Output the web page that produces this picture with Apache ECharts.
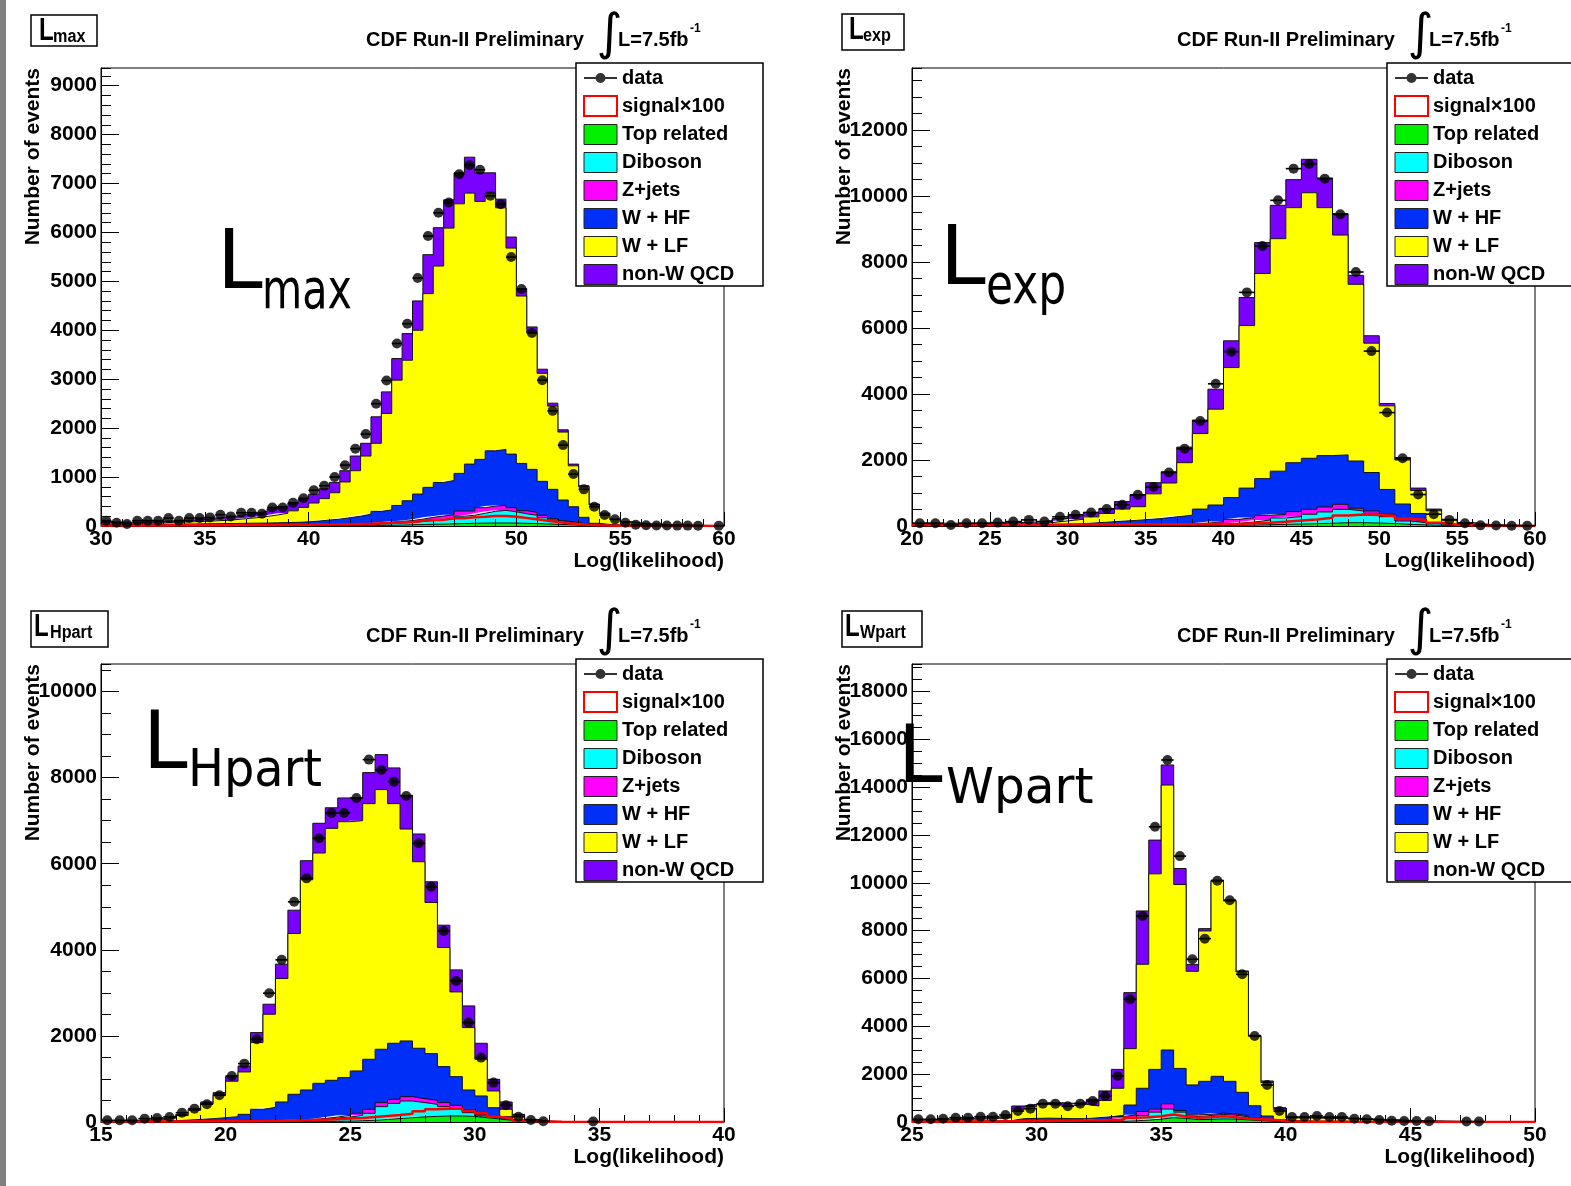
<!DOCTYPE html>
<html>
<head>
<meta charset="utf-8">
<script src="https://cdn.jsdelivr.net/npm/echarts@6/dist/echarts.min.js"></script>
<style>
html,body{margin:0;padding:0;background:#fff;}
#chart{width:1571px;height:1186px;}
</style>
</head>
<body>
<div id="chart"></div>
<script>
// ---------- L_max : 60 bins of 0.5 from 30 to 60 ----------
const lmaxData = [109,68,40,109,109,109,162,109,162,162, 176,230,196,270,270,250,378,378,473,568,
  730,824,1000,1243,1581,1878,2500,2973,3730,4135, 5067,5925,6400,6612,7190,7374,7280,6748,6578,5496,
  4843,3945,2980,2353,1653,1061,749,394,224,136, 67,25,15,10,10,8,8,6,null,5];
const lmaxSignal = [10,10,10,12,12,12,14,14,15,15, 16,16,18,18,20,20,22,24,26,28,
  30,32,35,38,42,46,55,60,75,80, 109,122,125,157,160,177,190,204,206,190,
  163,136,109,82,54,41,27,14,8,5, 4,3,2,2,1,1,1,0,0,0];
const lmaxTop = [2,2,2,2,2,2,2,3,3,3, 3,4,4,4,5,5,5,6,6,7, 7,8,8,9,10,10,12,15,20,25,
  30,35,40,45,50,55,60,62,62,60, 55,50,42,35,28,20,14,8,5,3, 2,2,1,1,1,1,0,0,0,0];
const lmaxDiboson = [2,2,2,2,2,3,3,3,3,4, 4,4,4,5,5,5,6,6,7,7, 8,8,10,11,12,14,28,35,40,45,
  60,75,85,105,150,165,200,238,258,230, 195,170,128,85,52,30,16,7,3,2, 2,1,1,1,1,0,1,1,1,0];
const lmaxZjets = [4,4,4,4,4,5,5,6,6,7, 7,8,8,9,10,10,11,12,13,14, 15,18,20,22,24,26,20,30,35,40,
  50,67,79,80,106,86,114,108,102,84, 63,59,48,30,22,18,11,5,4,3, 2,2,2,1,1,1,1,0,0,1];
const lmaxWhf = [22,22,22,24,26,26,28,28,30,31, 34,34,36,37,38,40,43,46,49,57,
  70,88,102,128,154,190,239,247,325,406, 513,613,686,700,769,959,987,1129,1143,1095,
  966,878,694,599,429,326,136,35,18,12, 9,7,6,5,3,3,2,2,2,1];
const lmaxWlf = [30,25,25,26,26,29,34,40,46,50, 57,65,78,95,112,135,160,190,235,295,
  370,438,540,730,930,1190,1391,1973,2560,2872, 3347,3959,4423,5158,5510,5538,5272,5266,4938,4211,
  3421,2793,2208,1701,1389,836,623,375,220,110, 65,40,28,22,18,13,11,8,5,4];
const lmaxQcd = [30,25,20,22,25,30,33,35,37,45, 55,65,70,85,95,105,125,140,160,170,
  180,200,212,230,300,260,541,441,442,544, 600,796,783,579,633,734,585,415,177,225,
  150,118,84,60,46,35,23,19,15,10, 10,8,7,5,4,4,3,3,2,2];

// ---------- L_exp : 40 bins of 1 from 20 to 60 ----------
const lexpData = [82,82,31,82,82,103,133,185,133,277, 339,410,513,646,944,1180,1621,2339,3181,4309,
  5284,7080,8485,9870,10830,10970,10527,9445,7697,5300, 3437,2052,954,359,185,82,20,15,10,10];
const lexpSignal = [30,30,32,32,34,35,36,38,40,42, 44,46,48,50,52,54,55,56,58,60,
  60,80,100,130,170,200,250,320,350,330, 300,220,180,100,40,20,10,5,3,2];
const lexpTop = [1,1,1,1,1,1,2,2,2,3, 3,4,5,6,7,8,10,12,14,17,
  20,30,40,50,60,70,85,100,100,90, 75,50,35,20,10,5,3,2,1,1];
const lexpDiboson = [1,1,1,1,1,1,1,1,2,2, 3,4,5,6,8,10,12,16,21,33,
  62,92,142,193,224,285,341,406,355,295, 209,102,66,41,15,7,3,2,1,1];
const lexpZjets = [2,2,2,3,3,3,3,4,4,5, 6,8,10,13,15,22,28,37,50,83,
  121,132,142,112,152,151,150,151,81,70, 71,51,51,21,10,6,4,2,2,1];
const lexpWhf = [26,26,26,27,28,30,32,33,37,45, 58,84,110,135,160,186,227,263,428,503,
  659,895,1112,1307,1483,1546,1558,1498,1434,1166, 753,464,228,21,16,7,5,4,3,2];
const lexpWlf = [20,20,20,20,22,23,24,32,58,99, 135,177,250,353,395,749,1026,1591,2288,2904,
  3940,4925,6216,7046,7729,8048,7514,6663,5354,3919, 2534,1333,697,359,134,65,30,16,10,8];
const lexpQcd = [40,35,35,36,37,40,43,51,61,72, 103,133,153,226,359,338,339,472,410,605,
  810,851,936,1010,849,1012,897,648,273,226, 72,73,72,51,20,13,6,4,3,2];

// ---------- L_Hpart : 50 bins of 0.5 from 15 to 40 ----------
const lhpartData = [39,39,39,78,93,116,217,310,411,620, 1070,1356,1922,2992,3767,5115,5660,6590,7179,7179,
  7528,8419,8179,7907,7574,6474,5465,4440,3278,2309, 1496,915,388,124,47,16,null,null,null,10,
  null,null,null,null,null,null,null,null,null,null];
const lhpartSignal = [10,10,10,12,12,14,14,16,16,18, 18,20,22,25,30,35,45,55,62,80,
  93,116,140,163,194,248,295,310,310,256, 202,124,78,30,15,8,4,2,0,0,
  0,0,0,0,0,0,0,0,0,0];
const lhpartTop = [0,0,0,0,0,1,1,1,2,2, 2,3,4,5,6,8,10,12,15,20,
  30,40,60,80,100,120,130,140,140,130, 100,70,40,20,8,3,1,0,0,0, 0,0,0,0,0,0,0,0,0,0];
const lhpartDiboson = [1,1,1,1,2,1,2,3,3,4, 6,7,10,13,19,27,35,50,78,96,
  125,162,297,354,388,330,281,217,170,87, 40,30,10,5,2,1,1,1,0,0, 0,0,0,0,0,0,0,0,0,0];
const lhpartZjets = [1,1,1,2,2,3,3,4,5,6, 7,10,11,12,15,15,15,16,23,39,
  47,93,93,93,101,93,93,93,78,62, 38,16,12,5,2,1,1,0,1,0, 0,0,0,0,0,0,0,0,0,0];
const lhpartWhf = [6,8,10,12,16,25,39,52,68,88, 109,158,270,311,425,593,684,821,853,876,
  984,1162,1240,1302,1294,1170,1085,837,666,465, 427,217,62,17,8,3,1,1,0,1, 0,0,0,0,0,0,0,0,0,0];
const lhpartWlf = [4,5,10,20,35,60,105,211,341,520, 822,985,1550,2162,2868,3736,4884,5350,5853,5946,
  5814,5939,6032,5567,4923,4334,3511,2766,1968,1449, 852,388,171,77,25,10,4,2,1,0, 0,0,0,0,0,0,0,0,0,0];
const lhpartQcd = [4,8,9,11,23,26,28,24,46,62, 108,139,232,233,333,542,442,691,478,551,
  528,721,813,830,785,644,481,519,512,504, 372,271,170,54,17,5,2,1,1,1, 0,0,0,0,0,0,0,0,0,0];

// ---------- L_Wpart : 50 bins of 0.5 from 25 to 50 ----------
const lwpartData = [112,112,139,181,181,223,223,293,460,558, 767,767,655,767,878,1087,1924,5130,8615,12345,
  15137,11117,6803,7667,10090,9270,6175,3597,1547,460, 209,209,251,209,209,139,112,84,56,42,
  42,28,null,null,20,20,null,null,null,null];
const lwpartSignal = [10,12,14,16,18,20,25,30,35,40, 45,50,55,60,70,80,90,174,202,244,
  313,230,174,202,244,202,146,118,90,35, 20,15,10,8,6,5,4,3,2,2, 1,1,1,0,0,0,0,0,0,0];
const lwpartTop = [1,1,1,1,2,2,2,3,3,3, 4,4,4,5,6,10,30,50,80,120,
  180,150,100,110,130,120,90,60,30,15, 8,6,5,4,3,3,2,2,2,1, 1,1,1,1,0,0,0,0,0,0];
const lwpartDiboson = [4,4,5,5,5,6,7,7,12,12, 12,12,12,13,34,70,100,130,191,291,
  360,261,130,161,183,165,126,72,33,20, 12,9,7,6,6,5,5,4,3,3, 2,2,1,1,1,1,1,1,0,0];
const lwpartZjets = [5,5,6,6,7,8,9,10,25,25, 26,26,26,27,60,50,100,120,167,125,
  220,69,70,49,57,55,44,43,27,15, 10,10,8,8,6,5,4,4,3,2, 2,1,1,1,1,1,0,0,1,1];
const lwpartWhf = [10,15,18,23,26,29,32,40,100,110, 118,108,98,95,80,90,41,410,972,1664,
  2250,1760,1250,1380,1540,1360,980,505,160,40, 20,15,15,12,13,12,11,10,8,8, 7,6,5,3,3,2,2,1,1,0];
const lwpartWlf = [50,50,55,65,75,85,100,120,390,491, 579,550,540,599,489,680,1139,2357,5184,8177,
  11080,7690,4750,6288,8160,7542,5033,2917,1395,440, 120,130,125,120,117,105,88,75,62,46,
  36,28,22,18,14,11,9,6,4,4];
const lwpartQcd = [30,30,35,40,45,50,60,70,139,98, 69,108,101,97,279,400,790,2342,2230,1410,
  838,670,290,97,42,42,42,27,70,70, 30,30,30,30,25,20,20,15,12,10, 7,7,5,4,3,3,2,2,2,1];

// ---------- shared text ----------
const legendNames = ['data', 'signal\u00d7100', 'Top related', 'Diboson', 'Z+jets', 'W + HF', 'W + LF', 'non-W QCD'];
const xTitle = 'Log(likelihood)';
const yTitle = 'Number of events';
const plotTitle = 'CDF Run-II Preliminary';
const lumiText = 'L=7.5fb';
const lumiExp = '-1';

const FONT = 'Liberation Sans';
const HAND = 'DejaVu Sans';
const COLORS = {top:'#00f000', diboson:'#00ffff', zjets:'#ff00ff', whf:'#0030f8', wlf:'#ffff00', qcd:'#7a00ff', signal:'#ff0000'};
// stacking order, bottom first
const COMPONENTS = [['Top related','top'],['Diboson','diboson'],['Z+jets','zjets'],['W + HF','whf'],['W + LF','wlf'],['non-W QCD','qcd']];

const PANELS = [
  {xMin:30, xMax:60, bin:0.5, yMax:9360, yMajor:1000, yMinor:200,
   grid:{left:101, top:68, width:623, height:458}, dx:0, dy:0,
   data:lmaxData, signal:lmaxSignal,
   stack:{top:lmaxTop, diboson:lmaxDiboson, zjets:lmaxZjets, whf:lmaxWhf, wlf:lmaxWlf, qcd:lmaxQcd},
   tag:'max', box:{x:31, y:15, w:66, h:31, lx:39, sx:55},
   big:{lx:217, ly:267, lsize:82, sx:262, sy:294, ssize:55, scale:0.75}},
  {xMin:20, xMax:60, bin:1, yMax:13880, yMajor:2000, yMinor:500,
   grid:{left:912, top:68, width:623, height:458}, dx:811, dy:0,
   data:lexpData, signal:lexpSignal,
   stack:{top:lexpTop, diboson:lexpDiboson, zjets:lexpZjets, whf:lexpWhf, wlf:lexpWlf, qcd:lexpQcd},
   tag:'exp', box:{x:842, y:14, w:62, h:36, lx:849, sx:865},
   big:{lx:940, ly:263, lsize:82, sx:986, sy:289, ssize:55, scale:0.8}},
  {xMin:15, xMax:40, bin:0.5, yMax:10640, yMajor:2000, yMinor:500,
   grid:{left:101, top:664, width:623, height:458}, dx:0, dy:596,
   data:lhpartData, signal:lhpartSignal,
   stack:{top:lhpartTop, diboson:lhpartDiboson, zjets:lhpartZjets, whf:lhpartWhf, wlf:lhpartWlf, qcd:lhpartQcd},
   tag:'Hpart', box:{x:31, y:611, w:77, h:36, lx:34, sx:52},
   big:{lx:143, ly:747, lsize:80, sx:188, sy:772, ssize:52, scale:0.92}},
  {xMin:25, xMax:50, bin:0.5, yMax:19150, yMajor:2000, yMinor:500,
   grid:{left:912, top:664, width:623, height:458}, dx:811, dy:596,
   data:lwpartData, signal:lwpartSignal,
   stack:{top:lwpartTop, diboson:lwpartDiboson, zjets:lwpartZjets, whf:lwpartWhf, wlf:lwpartWlf, qcd:lwpartQcd},
   tag:'Wpart', box:{x:842, y:611, w:80, h:36, lx:845, sx:862},
   big:{lx:898, ly:761, lsize:80, sx:946, sy:790, ssize:50, scale:0.97}}
];

// Histogram outline: one point per bin low edge plus the closing upper edge.
// Items are [count, edge] and mapped with encode {x:1, y:0}, so the count is the
// first numeric dimension and is the one the stack accumulates.
function histPoints(values, lo, w) {
  const pts = values.map((v, i) => [v, lo + i * w]);
  pts.push([values[values.length - 1], lo + values.length * w]);
  return pts;
}
function binCentres(values, lo, w) {
  return values.map((v, i) => (v == null ? null : [lo + (i + 0.5) * w, v])).filter(Boolean);
}

const DATA_ICON = 'path://M0,0M33,20M0,9L33,9L33,11L0,11Z M11.5,10A5,5,0,1,1,21.5,10A5,5,0,1,1,11.5,10Z';

const grids = [], xAxes = [], yAxes = [], series = [], legends = [], graphics = [];

graphics.push({type:'rect', shape:{x:0, y:0, width:6, height:1186}, style:{fill:'#808080'}, z:50});

PANELS.forEach((p, i) => {
  grids.push(Object.assign({show:true, borderColor:'#000', borderWidth:1, backgroundColor:'transparent',
    containLabel:false, outerBoundsMode:'none'}, p.grid));

  xAxes.push({gridIndex:i, type:'value', min:p.xMin, max:p.xMax, interval:5, z:11,
    axisLine:{show:true, onZero:false, lineStyle:{color:'#000', width:1}},
    axisTick:{show:true, inside:true, length:14, lineStyle:{color:'#000', width:1}},
    minorTick:{show:true, splitNumber:5, length:7, lineStyle:{color:'#000', width:1}},
    splitLine:{show:false}, minorSplitLine:{show:false},
    axisLabel:{show:true, margin:3, hideOverlap:false, fontFamily:FONT, fontWeight:'bold', fontSize:21, color:'#000',
      formatter:(v) => String(v)}});

  // major ticks with labels
  yAxes.push({gridIndex:i, type:'value', position:'left', min:0, max:p.yMax, interval:p.yMajor, z:11,
    axisLine:{show:true, onZero:false, lineStyle:{color:'#000', width:1}},
    axisTick:{show:true, inside:true, length:18, lineStyle:{color:'#000', width:1}},
    splitLine:{show:false},
    axisLabel:{show:true, margin:4, showMaxLabel:false, hideOverlap:false, fontFamily:FONT, fontWeight:'bold',
      fontSize:21, color:'#000', formatter:(v) => String(v)}});
  // minor ticks
  yAxes.push({gridIndex:i, type:'value', position:'left', offset:0, min:0, max:p.yMax, interval:p.yMinor, z:11,
    axisLine:{show:false, onZero:false}, axisLabel:{show:false}, splitLine:{show:false},
    axisTick:{show:true, inside:true, length:10, lineStyle:{color:'#000', width:1}}});

  COMPONENTS.forEach(([name, key], j) => {
    series.push({name, type:'line', xAxisIndex:i, yAxisIndex:2 * i, stack:'mc' + i, step:'end',
      encode:{x:1, y:0},
      symbol:'none', showSymbol:false, silent:true, animation:false,
      data:histPoints(p.stack[key], p.xMin, p.bin),
      lineStyle:{color:'#111', width:1}, itemStyle:{color:COLORS[key]},
      areaStyle:{color:COLORS[key], opacity:1}, z:10 - j});
  });

  series.push({name:legendNames[1], type:'line', xAxisIndex:i, yAxisIndex:2 * i, step:'end',
    encode:{x:1, y:0},
    symbol:'none', showSymbol:false, silent:true, animation:false,
    data:histPoints(p.signal, p.xMin, p.bin),
    lineStyle:{color:COLORS.signal, width:2.5}, itemStyle:{color:COLORS.signal}, z:12});

  const pts = binCentres(p.data, p.xMin, p.bin);
  series.push({name:legendNames[0], type:'scatter', xAxisIndex:i, yAxisIndex:2 * i, data:pts,
    symbol:'circle', symbolSize:10, itemStyle:{color:'#000'}, silent:true, animation:false, z:14});
  const hw = p.bin / 2;
  series.push({type:'custom', xAxisIndex:i, yAxisIndex:2 * i, data:pts, silent:true, animation:false, z:13,
    renderItem:(params, api) => {
      const x = api.value(0), y = api.value(1);
      const a = api.coord([x - hw, y]), b = api.coord([x + hw, y]);
      return {type:'line', shape:{x1:a[0], y1:a[1], x2:b[0], y2:b[1]}, style:{stroke:'#000', lineWidth:1.6}};
    }});

  const L = p.grid.left, T = p.grid.top;
  legends.push({left:L + 482, top:T, orient:'vertical', itemWidth:33, itemHeight:20, itemGap:7,
    padding:0, selectedMode:false, z:60,
    textStyle:{fontFamily:FONT, fontWeight:'bold', fontSize:20, lineHeight:20, color:'#000'},
    data:[
      {name:legendNames[0], icon:DATA_ICON, itemStyle:{color:'#000', borderWidth:0}},
      {name:legendNames[1], icon:'rect', itemStyle:{color:'#fff', borderColor:COLORS.signal, borderWidth:2}},
      ...COMPONENTS.map(([name, key]) => ({name, icon:'rect',
        itemStyle:{color:COLORS[key], borderColor:'#222', borderWidth:1}}))
    ]});

  // legend frame
  graphics.push({type:'rect', shape:{x:L + 475, y:T - 5, width:187, height:223},
    style:{fill:'#fff', stroke:'#000', lineWidth:1.5}, z:50});

  // boxed panel tag
  const bx = p.box;
  graphics.push({type:'rect', shape:{x:bx.x, y:bx.y, width:bx.w, height:bx.h},
    style:{fill:'#fff', stroke:'#000', lineWidth:1.5}, z:50});
  graphics.push({type:'text', x:bx.lx, y:bx.y + 16.5, scaleX:0.75, z:51,
    style:{text:'L', font:'bold 32px ' + FONT, fill:'#000', textAlign:'left', textVerticalAlign:'middle'}});
  graphics.push({type:'text', x:bx.sx - 2, y:bx.y + 22.5, scaleX:0.9, z:51,
    style:{text:p.tag, font:'bold 18px ' + FONT, fill:'#000', textAlign:'left', textVerticalAlign:'middle'}});

  // header line
  graphics.push({type:'text', x:366 + p.dx, y:40 + p.dy, z:51,
    style:{text:plotTitle, font:'bold 20px ' + FONT, fill:'#000', textAlign:'left', textVerticalAlign:'middle'}});
  graphics.push({type:'text', x:609.5 + p.dx, y:36 + p.dy, z:51,
    style:{text:'\u222b', font:'normal 50px ' + HAND, fill:'#000', textAlign:'center', textVerticalAlign:'middle'}});
  graphics.push({type:'text', x:618 + p.dx, y:40 + p.dy, z:51,
    style:{text:lumiText, font:'bold 20px ' + FONT, fill:'#000', textAlign:'left', textVerticalAlign:'middle'}});
  graphics.push({type:'text', x:690 + p.dx, y:29 + p.dy, z:51,
    style:{text:lumiExp, font:'bold 12px ' + FONT, fill:'#000', textAlign:'left', textVerticalAlign:'middle'}});

  // axis titles
  graphics.push({type:'text', x:33 + p.dx, y:T, rotation:Math.PI / 2, z:51,
    style:{text:yTitle, font:'bold 21px ' + FONT, fill:'#000', textAlign:'right', textVerticalAlign:'middle'}});
  graphics.push({type:'text', x:L + p.grid.width, y:561 + p.dy, z:51,
    style:{text:xTitle, font:'bold 21px ' + FONT, fill:'#000', textAlign:'right', textVerticalAlign:'middle'}});

  // large hand-lettered tag inside the plot
  const bg = p.big;
  graphics.push({type:'text', x:bg.lx, y:bg.ly, z:51,
    style:{text:'L', font:'normal ' + bg.lsize + 'px ' + HAND, fill:'#000', textAlign:'left', textVerticalAlign:'middle'}});
  graphics.push({type:'text', x:bg.sx, y:bg.sy, scaleX:bg.scale, z:51,
    style:{text:p.tag, font:'normal ' + bg.ssize + 'px ' + HAND, fill:'#000', textAlign:'left', textVerticalAlign:'middle'}});
});

const chart = echarts.init(document.getElementById('chart'), null, {renderer:'canvas'});
chart.setOption({
  animation:false,
  backgroundColor:'#fff',
  grid:grids, xAxis:xAxes, yAxis:yAxes, series, legend:legends,
  graphic:{elements:graphics}
});
</script>
</body>
</html>
